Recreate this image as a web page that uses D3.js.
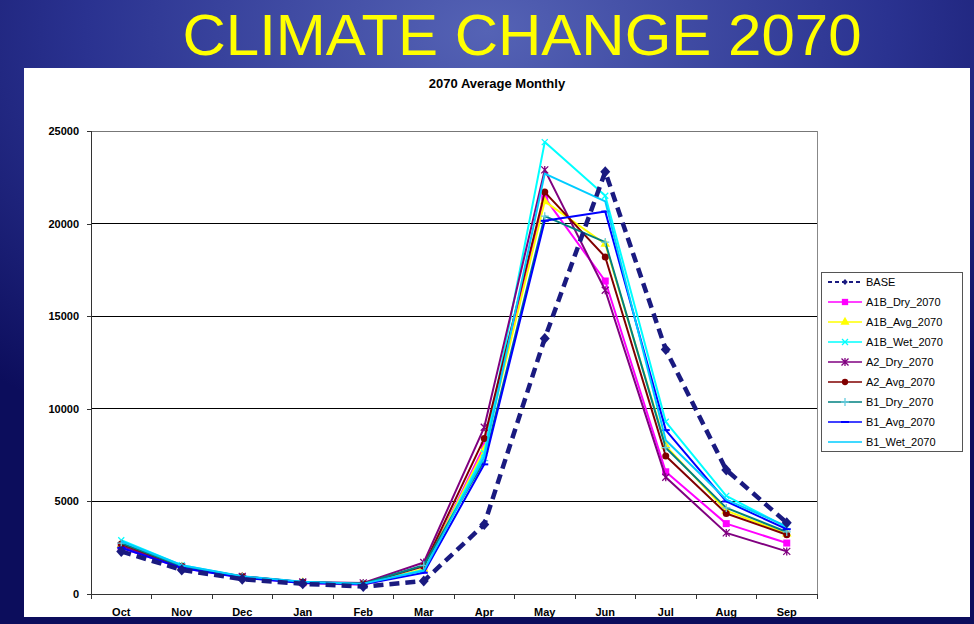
<!DOCTYPE html>
<html>
<head>
<meta charset="utf-8">
<script src="https://cdn.jsdelivr.net/npm/d3@7"></script>
<style>
  html, body { margin: 0; padding: 0; background: #1a1f78; }
  svg { display: block; }
</style>
</head>
<body>
<svg id="chart" width="974" height="624"></svg>
<script>
// Monthly flows for the 2070 climate scenarios against the base case
const months = ["Oct","Nov","Dec","Jan","Feb","Mar","Apr","May","Jun","Jul","Aug","Sep"];
const yTicks = [0, 5000, 10000, 15000, 20000, 25000];

const seriesNames = ["BASE","A1B_Dry_2070","A1B_Avg_2070","A1B_Wet_2070","A2_Dry_2070","A2_Avg_2070","B1_Dry_2070","B1_Avg_2070","B1_Wet_2070"];

const base      = [2300, 1300, 800, 550, 400, 700, 3750, 13800, 22800, 13200, 6700, 3850];
const a1bDry    = [2500, 1400, 900, 600, 500, 1300, 8000, 21400, 16900, 6600, 3800, 2750];
const a1bAvg    = [2650, 1450, 900, 620, 520, 1350, 7800, 21200, 18900, 8000, 4500, 3250];
const a1bWet    = [2900, 1550, 950, 650, 550, 1300, 7600, 24400, 21500, 9300, 5300, 3600];
const a2Dry     = [2600, 1450, 950, 650, 600, 1700, 9000, 22900, 16400, 6300, 3300, 2300];
const a2Avg     = [2700, 1500, 950, 630, 560, 1500, 8400, 21700, 18200, 7450, 4350, 3200];
const b1Dry     = [2750, 1500, 920, 640, 550, 1550, 7200, 20400, 19000, 7900, 4650, 3350];
const b1Avg     = [2500, 1400, 880, 600, 520, 1150, 7000, 20150, 20650, 8850, 5000, 3500];
const b1Wet     = [2850, 1550, 960, 660, 560, 1250, 7400, 22700, 21200, 8300, 5100, 3650];

const seriesValues = [base, a1bDry, a1bAvg, a1bWet, a2Dry, a2Avg, b1Dry, b1Avg, b1Wet];
const seriesColors = ["#1a1a80","#ff00ff","#ffff00","#00ffff","#800080","#800000","#008080","#0000ff","#00ccff"];
const seriesMarkers = ["diamond","square","triangle","cross","asterisk","circle","plus","dash","none"];

const svg = d3.select("#chart");

// Slide background
const defs = svg.append("defs");
const bg = defs.append("radialGradient").attr("id", "slideBg")
  .attr("cx", "50%").attr("cy", "5%").attr("r", "75%");
bg.append("stop").attr("offset", "0%").attr("stop-color", "#5563b5");
bg.append("stop").attr("offset", "55%").attr("stop-color", "#2a3290");
bg.append("stop").attr("offset", "100%").attr("stop-color", "#0c0d5c");
svg.append("rect").attr("width", 974).attr("height", 624).attr("fill", "url(#slideBg)");

svg.append("text")
  .attr("x", 522).attr("y", 55)
  .attr("text-anchor", "middle")
  .attr("font-family", "Liberation Sans, Arial, sans-serif")
  .attr("font-size", 58)
  .attr("textLength", 679)
  .attr("lengthAdjust", "spacingAndGlyphs")
  .attr("fill", "#ffff00")
  .text("CLIMATE CHANGE 2070");

// White chart panel
svg.append("rect").attr("x", 24).attr("y", 68).attr("width", 946).attr("height", 549).attr("fill", "#ffffff");

svg.append("text")
  .attr("x", 497).attr("y", 88)
  .attr("text-anchor", "middle")
  .attr("font-family", "Liberation Sans, Arial, sans-serif")
  .attr("font-weight", "bold")
  .attr("font-size", 13)
  .attr("fill", "#000")
  .text("2070 Average Monthly");

const plot = { left: 91, right: 817, top: 131, bottom: 594 };

const x = d3.scaleBand().domain(months).range([plot.left, plot.right]).padding(0);
const cx = m => x(m) + x.bandwidth() / 2;
const y = d3.scaleLinear().domain([0, 25000]).range([plot.bottom, plot.top]);

// Gridlines
svg.append("g").selectAll("line").data(yTicks.filter(t => t > 0)).join("line")
  .attr("x1", plot.left).attr("x2", plot.right)
  .attr("y1", d => y(d)).attr("y2", d => y(d))
  .attr("stroke", d => d === 25000 ? "#777" : "#000")
  .attr("stroke-width", 1)
  .attr("shape-rendering", "crispEdges");

// Right edge of plot area
svg.append("line")
  .attr("x1", plot.right).attr("x2", plot.right)
  .attr("y1", plot.top).attr("y2", plot.bottom)
  .attr("stroke", "#888").attr("shape-rendering", "crispEdges");

// Y axis
const yAxis = svg.append("g")
  .attr("transform", `translate(${plot.left},0)`)
  .call(d3.axisLeft(y).tickValues(yTicks).tickSize(4).tickPadding(8).tickFormat(d3.format("d")));
yAxis.select(".domain").attr("stroke", "#333").attr("shape-rendering", "crispEdges");
yAxis.selectAll(".tick line").attr("stroke", "#333").attr("shape-rendering", "crispEdges");
yAxis.selectAll("text")
  .attr("font-family", "Liberation Sans, Arial, sans-serif")
  .attr("font-weight", "bold").attr("font-size", 11).attr("fill", "#000");

// X axis: ticks between categories, labels centered
const xAxis = svg.append("g").attr("transform", `translate(0,${plot.bottom})`);
xAxis.append("line")
  .attr("x1", plot.left).attr("x2", plot.right).attr("y1", 0).attr("y2", 0)
  .attr("stroke", "#333").attr("shape-rendering", "crispEdges");
const boundaries = months.map(m => x(m)).concat([plot.right]);
xAxis.selectAll("line.tk").data(boundaries).join("line").attr("class", "tk")
  .attr("x1", d => d).attr("x2", d => d).attr("y1", 0).attr("y2", 5)
  .attr("stroke", "#333").attr("shape-rendering", "crispEdges");
xAxis.selectAll("text").data(months).join("text")
  .attr("x", d => cx(d)).attr("y", 22)
  .attr("text-anchor", "middle")
  .attr("font-family", "Liberation Sans, Arial, sans-serif")
  .attr("font-weight", "bold").attr("font-size", 11).attr("fill", "#000")
  .text(d => d);

// Marker drawing
function drawMarker(g, type, color, px, py, scale) {
  const s = scale || 1;
  switch (type) {
    case "diamond":
      g.append("path").attr("d", `M${px},${py-5.5*s}L${px+5*s},${py}L${px},${py+5.5*s}L${px-5*s},${py}Z`)
        .attr("fill", color);
      break;
    case "square":
      g.append("rect").attr("x", px - 3.5 * s).attr("y", py - 3.5 * s)
        .attr("width", 7 * s).attr("height", 7 * s).attr("fill", color);
      break;
    case "triangle":
      g.append("path").attr("d", d3.symbol(d3.symbolTriangle, 40 * s)())
        .attr("transform", `translate(${px},${py})`).attr("fill", color);
      break;
    case "circle":
      g.append("circle").attr("cx", px).attr("cy", py).attr("r", 3.5 * s).attr("fill", color);
      break;
    case "cross":
      g.append("path").attr("d", `M${px-3},${py-3}L${px+3},${py+3}M${px-3},${py+3}L${px+3},${py-3}`)
        .attr("stroke", color).attr("stroke-width", 1.3);
      break;
    case "asterisk":
      g.append("path").attr("d", `M${px-3.5},${py-3.5}L${px+3.5},${py+3.5}M${px-3.5},${py+3.5}L${px+3.5},${py-3.5}M${px},${py-4}L${px},${py+4}`)
        .attr("stroke", color).attr("stroke-width", 1.3);
      break;
    case "plus":
      g.append("path").attr("d", `M${px-4},${py}L${px+4},${py}M${px},${py-4}L${px},${py+4}`)
        .attr("stroke", color === "#008080" ? "#66ccdd" : color).attr("stroke-width", 1.3);
      break;
    case "dash":
      g.append("path").attr("d", `M${px-4},${py}L${px+4},${py}`)
        .attr("stroke", color).attr("stroke-width", 2);
      break;
    default:
      break;
  }
}

const line = d3.line().x((d, i) => cx(months[i])).y(d => y(d));

// Scenario lines drawn first, base on top
const order = [1, 2, 3, 4, 5, 6, 7, 8, 0];
const linesG = svg.append("g");
order.forEach(k => {
  const vals = seriesValues[k];
  const g = linesG.append("g");
  g.append("path").datum(vals)
    .attr("d", line)
    .attr("fill", "none")
    .attr("stroke", seriesColors[k])
    .attr("stroke-width", k === 0 ? 4.5 : 2)
    .attr("stroke-dasharray", k === 0 ? "10,6" : null)
    .attr("stroke-linejoin", "round");
  vals.forEach((v, i) => drawMarker(g, seriesMarkers[k], seriesColors[k], cx(months[i]), y(v), 1));
});

// Legend
const leg = svg.append("g");
leg.append("rect").attr("x", 821.5).attr("y", 272.5).attr("width", 141).attr("height", 179)
  .attr("fill", "#fff").attr("stroke", "#555").attr("stroke-width", 1);
seriesNames.forEach((name, k) => {
  const ly = 282 + k * 20;
  leg.append("line").attr("x1", 828).attr("x2", 862).attr("y1", ly).attr("y2", ly)
    .attr("stroke", seriesColors[k])
    .attr("stroke-width", k === 0 ? 2 : 1.5)
    .attr("stroke-dasharray", k === 0 ? "4,3" : null);
  drawMarker(leg, seriesMarkers[k], seriesColors[k], 845, ly, k === 0 ? 0.55 : 0.9);
  leg.append("text").attr("x", 866).attr("y", ly + 4)
    .attr("font-family", "Liberation Sans, Arial, sans-serif")
    .attr("font-size", 11).attr("fill", "#000")
    .text(name);
});
</script>
</body>
</html>
